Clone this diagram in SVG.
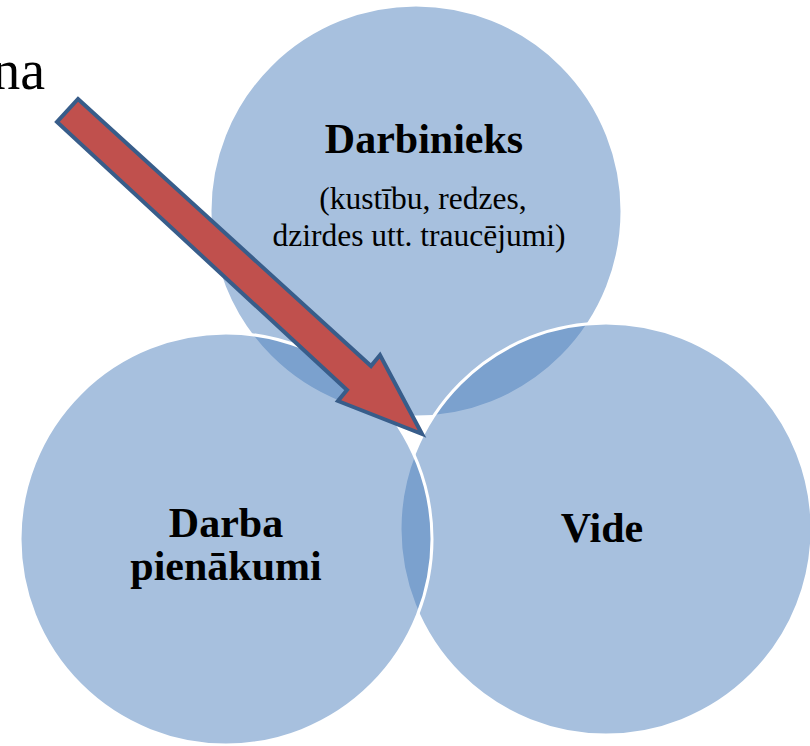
<svg xmlns="http://www.w3.org/2000/svg" width="810" height="746" viewBox="0 0 810 746">
<style>
.c{fill:rgb(79,129,189);fill-opacity:0.5;stroke:#fff;stroke-width:3}
.b{font-family:"Liberation Serif","Times New Roman",serif;font-weight:bold;font-size:42px;fill:#000;text-anchor:middle}
.r{font-family:"Liberation Serif","Times New Roman",serif;font-size:31.5px;fill:#000;text-anchor:middle}
</style>
<rect width="810" height="746" fill="#fff"/>
<text x="45" y="89" font-family="'Liberation Serif','Times New Roman',serif" font-size="56" text-anchor="end">na</text>
<g id="node-darbinieks">
<circle class="c" cx="416" cy="211" r="206"/>
<text class="b" x="424" y="153">Darbinieks</text>
<text class="r" x="423" y="209">(kustību, redzes,</text>
<text class="r" x="419" y="246">dzirdes utt. traucējumi)</text>
</g>
<g id="node-vide">
<circle class="c" cx="606" cy="529" r="206"/>
<text class="b" x="602" y="542">Vide</text>
</g>
<g id="node-darba">
<circle class="c" cx="226" cy="539" r="206"/>
<text class="b" x="226" y="537">Darba</text>
<text class="b" x="226" y="580">pienākumi</text>
</g>
<g id="connectors">
<polygon points="78,99 371,366 380,355 422,434 338,401 347,390 57,122" fill="#C0504D" stroke="#385D8A" stroke-width="4" stroke-linejoin="miter"/>
</g>
</svg>
